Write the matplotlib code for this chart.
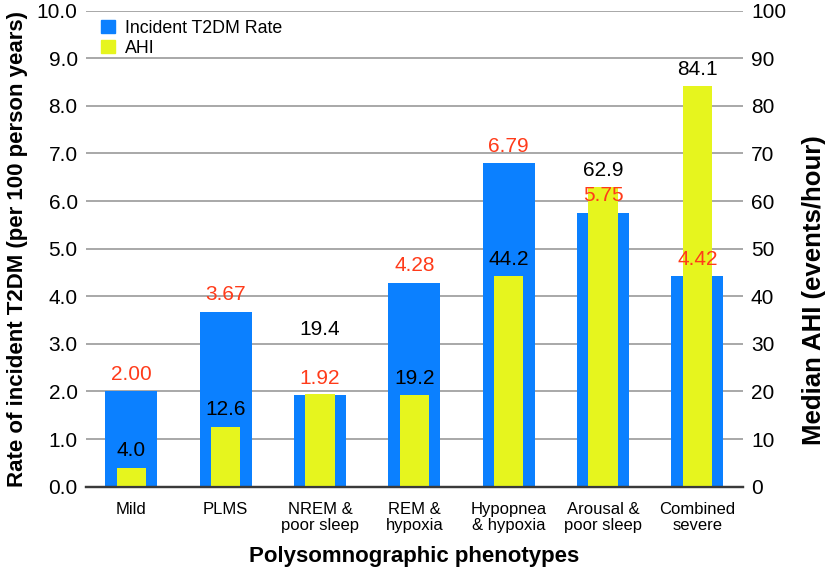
import matplotlib
matplotlib.use("Agg")
import matplotlib.pyplot as plt
from matplotlib.patches import Patch
import numpy as np

plt.rcParams['font.family'] = ['Liberation Sans', 'DejaVu Sans']

# data
phenotypes = ["Mild", "PLMS", "NREM &\npoor sleep", "REM &\nhypoxia",
              "Hypopnea\n& hypoxia", "Arousal &\npoor sleep", "Combined\nsevere"]
t2dm_rate = [2.00, 3.67, 1.92, 4.28, 6.79, 5.75, 4.42]
ahi = [4.0, 12.6, 19.4, 19.2, 44.2, 62.9, 84.1]
rate_labels = ["2.00", "3.67", "1.92", "4.28", "6.79", "5.75", "4.42"]
ahi_labels = ["4.0", "12.6", "19.4", "19.2", "44.2", "62.9", "84.1"]

blue = "#0B80FF"
yellow = "#E6F51E"
red = "#FF3B1A"

x = np.arange(len(phenotypes))

fig = plt.figure(figsize=(8.27, 5.78), dpi=100)
ax = fig.add_axes([0.104, 0.158, 0.794, 0.8235])
ax2 = ax.twinx()

ax.bar(x, t2dm_rate, width=0.55, color=blue, zorder=2)
ax2.bar(x, ahi, width=0.31, color=yellow, zorder=2)

ax.set_xlim(-0.48, 6.48)
ax.set_ylim(0, 10)
ax2.set_ylim(0, 100)
ax.set_yticks(np.arange(0, 10.1, 1))
ax.set_yticklabels(["%.1f" % v for v in np.arange(0, 10.1, 1)])
ax2.set_yticks(np.arange(0, 101, 10))

ax.yaxis.grid(True, color="#9a9a9a", lw=1.2)
ax.set_axisbelow(True)

for a in (ax, ax2):
    for s in ("left", "right", "top"):
        a.spines[s].set_visible(False)
    a.spines["bottom"].set_color("#3a3a3a")
    a.spines["bottom"].set_linewidth(1.6)
    a.tick_params(length=0, labelsize=15, pad=6)

ax.set_xticks(x)
ax.set_xticklabels(phenotypes, fontsize=12, linespacing=1.1)
ax.tick_params(axis="x", pad=11)

ax.set_xlabel("Polysomnographic phenotypes", fontsize=16, fontweight="bold", labelpad=9)
ax.set_ylabel("Rate of incident T2DM (per 100 person years)", fontsize=16, fontweight="bold", labelpad=6)
# right axis title sits a bit lower than the axis centre in the original
fig.text(0.984, 0.498, "Median AHI (events/hour)", rotation=90, ha="center", va="center",
         fontsize=18.5, fontweight="bold")

# value labels (all on top axis so they sit above both bar sets)
for i in range(len(x)):
    ax2.annotate(rate_labels[i], xy=(x[i], t2dm_rate[i]), xycoords=ax.transData,
                 xytext=(0, 5.5), textcoords="offset points", ha="center", va="bottom",
                 color=red, fontsize=15, zorder=5)
    y_lab = ahi[i]
    if i == 2:
        y_lab = 29.5  # label drawn higher in the original
    ax2.annotate(ahi_labels[i], xy=(x[i], y_lab), xytext=(0, 5.5), textcoords="offset points",
                 ha="center", va="bottom", color="black", fontsize=15, zorder=5)

handles = [Patch(color=blue, label="Incident T2DM Rate"), Patch(color=yellow, label="AHI")]
ax2.legend(handles=handles, loc="upper left", bbox_to_anchor=(0.01, 1.0), frameon=False,
           fontsize=12.8, handlelength=0.75, handleheight=0.75, handletextpad=0.6,
           labelspacing=0.2, borderaxespad=0.1)

fig.savefig("out.png", dpi=100)
